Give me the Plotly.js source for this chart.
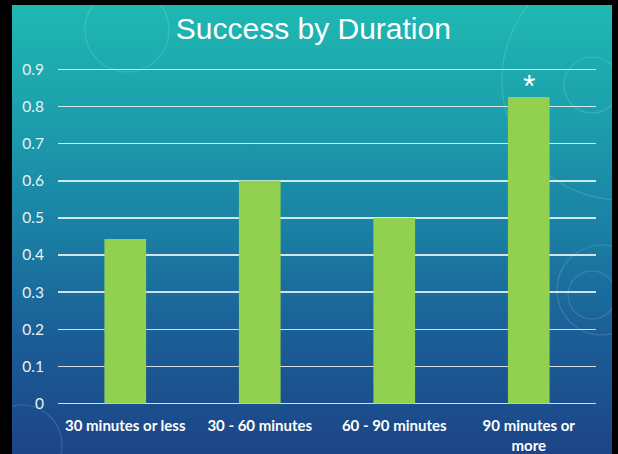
<!DOCTYPE html>
<html>
<head>
<meta charset="utf-8">
<script src="https://cdn.plot.ly/plotly-3.0.1.min.js"></script>
<style>
  html, body { margin: 0; padding: 0; background: #000; }
  #frame { position: relative; width: 618px; height: 454px; background: #000; overflow: hidden; }
  #bg { position: absolute; left: 12px; top: 5px; width: 600px; height: 449px;
        background: linear-gradient(180deg, #1fb8b2 0%, #1c9fac 25%, #1a80a4 50%, #1b6098 72%, #1c4486 100%); }
  #deco { position: absolute; left: 12px; top: 5px; width: 600px; height: 449px; }
  #chart { position: absolute; left: 0; top: 0; width: 618px; height: 454px; }
</style>
</head>
<body>
<div id="frame">
  <div id="bg"></div>
  <svg id="deco" viewBox="0 0 600 449">
    <g fill="none" stroke="rgba(255,255,255,0.14)" stroke-width="1.2">
      <circle cx="115" cy="25" r="42"/>
      <circle cx="610" cy="75" r="120"/>
      <circle cx="580" cy="80" r="28"/>
      <circle cx="580" cy="290" r="24"/>
      <circle cx="590" cy="285" r="45"/>
      <circle cx="10" cy="440" r="40"/>
    </g>
  </svg>
  <div id="chart"></div>
</div>
<script>
const categories = ["30 minutes or less", "30 - 60 minutes", "60 - 90 minutes", "90 minutes or more"];
const tickLabels = ["30 minutes or less", "30 - 60 minutes", "60 - 90 minutes", "90 minutes or<br>more"];
const successRate = [0.443, 0.6, 0.5, 0.826];
const markCategory = "90 minutes or more";
const markValue = 0.826;
const markText = "*";
const yTicks = [0, 0.1, 0.2, 0.3, 0.4, 0.5, 0.6, 0.7, 0.8, 0.9];
const yTickLabels = ["0", "0.1", "0.2", "0.3", "0.4", "0.5", "0.6", "0.7", "0.8", "0.9"];

const trace = {
  type: "bar",
  x: categories,
  y: successRate,
  marker: { color: "#92d050" },
  hoverinfo: "none"
};

const layout = {
  width: 618, height: 454,
  margin: { l: 58, r: 22, t: 68, b: 49 },
  paper_bgcolor: "rgba(0,0,0,0)",
  plot_bgcolor: "rgba(0,0,0,0)",
  bargap: 0.69,
  showlegend: false,
  title: {
    text: "Success by Duration",
    font: { family: "Liberation Sans, Arial, sans-serif", size: 30, color: "#ffffff" },
    x: 0.507, xanchor: "center", y: 0.938, yanchor: "middle"
  },
  annotations: [{
    x: markCategory, y: markValue, xref: "x", yref: "y",
    text: markText, showarrow: false, yanchor: "bottom", yshift: -9,
    font: { family: "Liberation Sans, Arial, sans-serif", size: 32, color: "#ffffff" }
  }],
  xaxis: {
    type: "category",
    tickvals: categories,
    ticktext: tickLabels,
    tickfont: { family: "Lato, sans-serif", size: 15, color: "#ffffff", weight: "bold" },
    showgrid: false, zeroline: false, showline: false,
    ticks: "outside", ticklen: 7, tickcolor: "rgba(0,0,0,0)"
  },
  yaxis: {
    range: [-0.004, 0.904],
    tickvals: yTicks,
    ticktext: yTickLabels,
    tickfont: { family: "Lato, sans-serif", size: 15.5, color: "#e6f2f4" },
    showgrid: true, gridcolor: "rgba(255,255,255,0.8)", gridwidth: 1.5,
    zeroline: false, showline: false,
    ticks: "outside", ticklen: 10, tickcolor: "rgba(0,0,0,0)"
  }
};

Plotly.newPlot("chart", [trace], layout, { displayModeBar: false, staticPlot: true });
</script>
</body>
</html>
